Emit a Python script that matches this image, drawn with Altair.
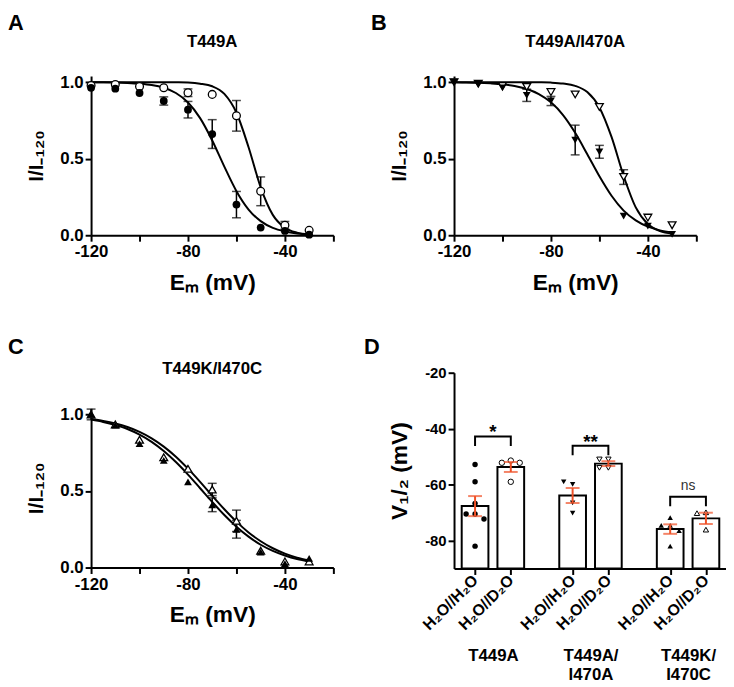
import altair as alt
import pandas as pd

FONT = "Liberation Sans"
RED = "#EF5026"

# ---------------- A-C: I/I-120 vs Em ----------------
V = [-120, -110, -100, -90, -80, -70, -60, -50, -40, -30]
V_FIT = [-120, -115, -110, -105, -100, -95, -90, -85, -80, -75,
         -70, -65, -60, -55, -50, -45, -40, -35, -30]

a_h2o = [0.963, 0.957, 0.929, 0.877, 0.82, 0.661, 0.20, 0.05, 0.028, 0.004]
a_h2o_sem = [0, 0, 0, 0.027, 0.054, 0.094, 0.086, 0, 0, 0]
a_d2o = [0.978, 0.985, 0.972, 0.963, 0.931, 0.92, 0.78, 0.287, 0.065, 0.032]
a_d2o_sem = [0, 0, 0, 0, 0.025, 0, 0.10, 0.094, 0.025, 0]
a_h2o_fit = [0.999, 0.999, 0.998, 0.995, 0.990, 0.981, 0.963, 0.929, 0.867, 0.765,
             0.619, 0.448, 0.288, 0.168, 0.092, 0.048, 0.025, 0.012, 0.006]
a_d2o_fit = [1.0, 1.0, 1.0, 1.0, 1.0, 1.0, 1.0, 0.999, 0.997, 0.990,
             0.973, 0.923, 0.80, 0.575, 0.313, 0.133, 0.049, 0.017, 0.006]

b_h2o = [1.0, 0.985, 0.963, 0.914, 0.877, 0.622, 0.545, 0.125, 0.06, 0.006]
b_h2o_sem = [0, 0, 0, 0.04, 0.03, 0.097, 0.042, 0, 0, 0]
b_d2o = [1.0, 0.99, 0.975, 0.968, 0.935, 0.92, 0.838, 0.38, 0.115, 0.065]
b_d2o_sem = [0, 0, 0, 0, 0, 0, 0, 0.048, 0, 0]
b_h2o_fit = [0.999, 0.998, 0.996, 0.992, 0.986, 0.975, 0.955, 0.922, 0.868, 0.785,
             0.669, 0.529, 0.385, 0.258, 0.161, 0.097, 0.056, 0.032, 0.018]
b_d2o_fit = [1.0, 1.0, 1.0, 1.0, 1.0, 1.0, 1.0, 0.999, 0.997, 0.991,
             0.976, 0.935, 0.835, 0.642, 0.387, 0.182, 0.073, 0.027, 0.010]

c_h2o = [1.0, 0.93, 0.81, 0.70, 0.56, 0.41, 0.25, 0.10, 0.025, 0.06]
c_h2o_sem = [0.035, 0, 0, 0, 0, 0.045, 0.058, 0, 0, 0]
c_d2o = [1.0, 0.935, 0.835, 0.72, 0.645, 0.51, 0.305, 0.11, 0.04, 0.04]
c_d2o_sem = [0, 0, 0, 0, 0, 0.04, 0.07, 0, 0, 0]
c_h2o_fit = [0.966, 0.951, 0.931, 0.905, 0.868, 0.821, 0.761, 0.689, 0.607, 0.518,
             0.428, 0.343, 0.267, 0.202, 0.149, 0.109, 0.079, 0.056, 0.040]
c_d2o_fit = [0.971, 0.958, 0.941, 0.918, 0.886, 0.844, 0.790, 0.724, 0.646, 0.560,
             0.469, 0.381, 0.300, 0.229, 0.172, 0.126, 0.091, 0.065, 0.047]

x_ticks = [-120, -100, -80, -60, -40, -20]
y_ticks = [0, 0.5, 1.0]

# ---------------- D: V1/2 ----------------
d_groups = ["T449A", "T449A/I470A", "T449K/I470C"]
d_conditions = ["H\u2082O//H\u2082O", "H\u2082O//D\u2082O"]
t449a_h2o = [-52.8, -59.0, -66.7, -70.5, -70.5, -72.3, -82.0]
t449a_d2o = [-51.4, -52.2, -52.2, -59.0]
t449a_i470a_h2o = [-59.9, -59.0, -66.5, -70.2]
t449a_i470a_d2o = [-51.0, -51.0, -54.0, -54.0]
t449k_i470c_h2o = [-71.8, -74.6, -74.6, -76.5, -82.0]
t449k_i470c_d2o = [-69.9, -70.2, -76.1]
d_values = [[t449a_h2o, t449a_d2o],
            [t449a_i470a_h2o, t449a_i470a_d2o],
            [t449k_i470c_h2o, t449k_i470c_d2o]]
sig_labels = ["*", "**", "ns"]
bracket_tops = [-42.8, -46.1, -64.3]
d_y_ticks = [-80, -60, -40, -20]

# ---------------- shared styling ----------------
W_CURVE, H_CURVE = 245, 161
GSTEP = 2.73
JIT = 0.25


def curve_panel(letter, title, h2o, h2o_sem, d2o, d2o_sem, fit_h2o, fit_d2o,
                shape, letter_y, title_y):
    n = len(V)
    pts = pd.DataFrame({"V": V + V, "I": h2o + d2o, "sem": h2o_sem + d2o_sem,
                        "sol": ["H2O"] * n + ["D2O"] * n})
    pts["lo"] = pts["I"] - pts["sem"]
    pts["hi"] = pts["I"] + pts["sem"]
    m = len(V_FIT)
    fit = pd.DataFrame({"V": V_FIT + V_FIT, "I": fit_h2o + fit_d2o,
                        "sol": ["H2O"] * m + ["D2O"] * m})
    xs = alt.Scale(domain=[-120, -20], nice=False, zero=False)
    ys = alt.Scale(domain=[0, 1.04], nice=False, zero=False)
    xax = alt.Axis(title="E\u2098 (mV)", values=x_ticks,
                   labelExpr="datum.value % 40 == 0 ? '' + datum.value : ''",
                   labelFontSize=17, titleFontSize=23, labelPadding=3,
                   titlePadding=12, labelFlush=False, labelOverlap=False)
    yax = alt.Axis(title="I/I\u208b\u2081\u2082\u2080", values=y_ticks, format=".1f",
                   labelFontSize=17, titleFontSize=21, labelPadding=2,
                   titlePadding=13, labelFlush=False, labelOverlap=False)
    x = alt.X("V:Q", scale=xs, axis=xax)

    def yy(f):
        return alt.Y(f, scale=ys, axis=yax)

    lines = alt.Chart(fit).mark_line(color="black", strokeWidth=2,
                                     interpolate="monotone").encode(
        x=x, y=yy("I:Q"), detail="sol:N")
    eb = alt.Chart(pts).transform_filter("datum.sem > 0")
    rules = eb.mark_rule(color="black", strokeWidth=1.5).encode(
        x=x, y=yy("lo:Q"), y2="hi:Q")
    cap_lo = eb.mark_tick(orient="horizontal", color="black", size=9,
                          thickness=1.5).encode(x=x, y=yy("lo:Q"))
    cap_hi = eb.mark_tick(orient="horizontal", color="black", size=9,
                          thickness=1.5).encode(x=x, y=yy("hi:Q"))
    open_pts = alt.Chart(pts).transform_filter("datum.sol == 'D2O'").mark_point(
        shape=shape, filled=True, fill="white", stroke="black", strokeWidth=1.3,
        size=62, opacity=1).encode(x=x, y=yy("I:Q"))
    filled_pts = alt.Chart(pts).transform_filter("datum.sol == 'H2O'").mark_point(
        shape=shape, filled=True, color="black", size=62, opacity=1).encode(
        x=x, y=yy("I:Q"))
    letter_t = alt.Chart(pd.DataFrame({"t": [letter]})).mark_text(
        align="left", baseline="top", fontSize=22, fontWeight="bold", font=FONT,
        color="black").encode(x=alt.value(-84), y=alt.value(letter_y), text="t:N")
    title_t = alt.Chart(pd.DataFrame({"t": [title]})).mark_text(
        align="center", baseline="alphabetic", fontSize=17, fontWeight="bold",
        font=FONT, color="black").encode(x=alt.value(W_CURVE / 2),
                                          y=alt.value(title_y), text="t:N")
    return alt.layer(lines, rules, cap_lo, cap_hi, open_pts, filled_pts,
                     letter_t, title_t).properties(width=W_CURVE, height=H_CURVE)


panel_a = curve_panel("A", "T449A", a_h2o, a_h2o_sem, a_d2o, a_d2o_sem,
                      a_h2o_fit, a_d2o_fit, "circle", -64, -29)
panel_b = curve_panel("B", "T449A/I470A", b_h2o, b_h2o_sem, b_d2o, b_d2o_sem,
                      b_h2o_fit, b_d2o_fit, "triangle-down", -64, -29)
panel_c = curve_panel("C", "T449K/I470C", c_h2o, c_h2o_sem, c_d2o, c_d2o_sem,
                      c_h2o_fit, c_d2o_fit, "triangle-up", -72, -35)


# ---------------- panel D ----------------
def swarm(vals, thresh=2.6):
    placed, cols = [], []
    for v in vals:
        for c in [0, -1, 1, -2, 2]:
            if all(abs(v - pv) >= thresh or pc != c for pv, pc in placed):
                break
        placed.append((v, c))
        cols.append(c)
    return cols


rows = []
for gi, g in enumerate(d_groups):
    for ci, c in enumerate(d_conditions):
        vals = d_values[gi][ci]
        slot = round(gi * GSTEP + ci, 2)
        for v, col in zip(vals, swarm(vals)):
            rows.append({"group": g, "cond": c, "ci": ci, "v": v, "slot": slot,
                         "xpos": round(slot + col * JIT, 3)})
d_df = pd.DataFrame(rows)

slots = [round(gi * GSTEP + ci, 2) for gi in range(len(d_groups))
         for ci in range(len(d_conditions))]
slot_labels = [d_conditions[ci] for gi in range(len(d_groups))
               for ci in range(len(d_conditions))]
centers = [round(gi * GSTEP + 0.5, 3) for gi in range(len(d_groups))]

tick_expr = " : ".join(f"abs(datum.value - {s}) < 0.01 ? '{lab}'"
                       for s, lab in zip(slots, slot_labels)) + " : ''"


def group_lines(name):
    parts = name.split("/")
    if len(parts) == 1:
        return [name]
    return [parts[0] + "/", parts[1]]


grp_expr = " : ".join(
    f"abs(datum.value - {cx}) < 0.01 ? [" +
    ",".join(f"'{t}'" for t in group_lines(g)) + "]"
    for cx, g in zip(centers, d_groups)) + " : ''"

br_rows = []
sig_rows = []
for gi in range(len(d_groups)):
    x0, x1 = slots[2 * gi], slots[2 * gi + 1]
    top = bracket_tops[gi]
    for k, (xx, yv) in enumerate([(x0, top - 3.4), (x0, top), (x1, top), (x1, top - 3.4)]):
        br_rows.append({"b": gi, "k": k, "x": xx, "y": yv})
    lab = sig_labels[gi]
    kind = "ns" if lab == "ns" else "star"
    sig_rows.append({"x": centers[gi], "y": top + (2.2 if kind == "ns" else -0.7),
                     "label": lab, "kind": kind})
br_df = pd.DataFrame(br_rows)
sig_df = pd.DataFrame(sig_rows)

W_D, H_D = 275, 198
xs_d = alt.Scale(domain=[-0.45, -0.45 + W_D / 37.5], nice=False, zero=False)
ys_d = alt.Scale(domain=[-90, -20], nice=False, zero=False)
yax_d = alt.Axis(title="V\u2081/\u2082 (mV)", values=d_y_ticks,
                 labelExpr="'' + datum.value", labelFontSize=15, titleFontSize=23,
                 labelPadding=2, titlePadding=13, labelFlush=False,
                 labelOverlap=False)
xax_ticks = alt.Axis(title=None, values=slots, labelExpr=tick_expr, labelAngle=-45,
                     labelAlign="right", labelBaseline="middle", labelFontSize=16,
                     labelPadding=3, labelFlush=False, labelOverlap=False)
xax_groups = alt.Axis(title=None, orient="bottom", values=centers,
                      labelExpr=grp_expr, domain=False, ticks=False, tickSize=0,
                      labelAngle=0, labelAlign="center", labelBaseline="top",
                      labelFontSize=17, labelLineHeight=19, labelPadding=0,
                      offset=80, labelFlush=False, labelOverlap=False)


def yd(f):
    return alt.Y(f, scale=ys_d, axis=yax_d)


def xd(f, axis=None):
    return alt.X(f, scale=xs_d, axis=axis)


base = alt.Chart(d_df)
agg = base.transform_aggregate(
    mean="mean(v)", sem="stderr(v)", groupby=["slot"]).transform_calculate(
    lo="datum.mean - datum.sem", hi="datum.mean + datum.sem")

bars = agg.mark_bar(size=27, fill="white", stroke="black", strokeWidth=2).encode(
    x=xd("slot:Q", xax_ticks), y=yd("mean:Q"), y2=alt.datum(-90))
shape_enc = alt.Shape("group:N", scale=alt.Scale(
    domain=d_groups, range=["circle", "triangle-down", "triangle-up"]), legend=None)
pts_open = base.transform_filter("datum.ci == 1").mark_point(
    filled=True, fill="white", stroke="black", strokeWidth=1, size=30,
    opacity=1).encode(x=xd("xpos:Q"), y=yd("v:Q"), shape=shape_enc)
pts_fill = base.transform_filter("datum.ci == 0").mark_point(
    filled=True, color="black", size=30, opacity=1).encode(
    x=xd("xpos:Q"), y=yd("v:Q"), shape=shape_enc)
err_rule = agg.mark_rule(color=RED, strokeWidth=2).encode(
    x=xd("slot:Q"), y=yd("lo:Q"), y2="hi:Q")
err_lo = agg.mark_tick(orient="horizontal", color=RED, size=14, thickness=2).encode(
    x=xd("slot:Q"), y=yd("lo:Q"))
err_hi = agg.mark_tick(orient="horizontal", color=RED, size=14, thickness=2).encode(
    x=xd("slot:Q"), y=yd("hi:Q"))
brackets = alt.Chart(br_df).mark_line(color="black", strokeWidth=2).encode(
    x=xd("x:Q"), y=yd("y:Q"), detail="b:N", order="k:O")
stars = alt.Chart(sig_df).transform_filter("datum.kind == 'star'").mark_text(
    fontSize=19, fontWeight="bold", font=FONT, baseline="alphabetic",
    color="black").encode(x=xd("x:Q", xax_groups), y=yd("y:Q"), text="label:N")
ns = alt.Chart(sig_df).transform_filter("datum.kind == 'ns'").mark_text(
    fontSize=14, font=FONT, baseline="alphabetic", color="#333333").encode(
    x=xd("x:Q"), y=yd("y:Q"), text="label:N")
letter_d = alt.Chart(pd.DataFrame({"t": ["D"]})).mark_text(
    align="left", baseline="top", fontSize=22, fontWeight="bold", font=FONT,
    color="black").encode(x=alt.value(-91), y=alt.value(-36), text="t:N")

panel_d = alt.layer(bars, pts_open, pts_fill, err_rule, err_lo, err_hi, brackets,
                    stars, ns, letter_d).resolve_axis(x="independent").properties(
    width=W_D, height=H_D)

left_col = alt.vconcat(panel_a, panel_c, spacing=42)
right_col = alt.vconcat(panel_b, panel_d, spacing=42)
chart = alt.hconcat(left_col, right_col, spacing=30).properties(padding=0).configure_view(
    stroke=None).configure_axis(
    grid=False, domainColor="black", domainWidth=2, tickColor="black", tickWidth=2,
    tickSize=6, labelColor="black", titleColor="black", labelFont=FONT,
    titleFont=FONT, labelFontWeight="bold", titleFontWeight="bold")

chart.save("out.html", embed_options={"renderer": "svg", "actions": False})
